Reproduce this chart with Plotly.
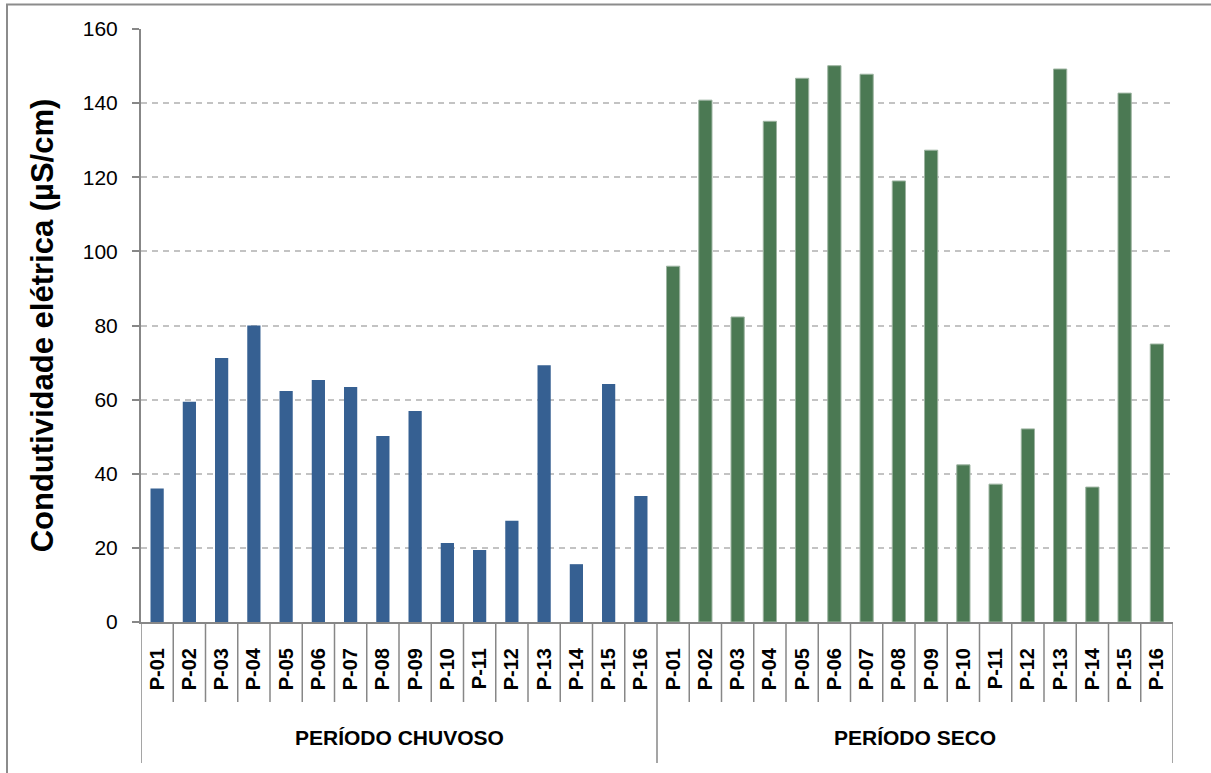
import plotly.graph_objects as go

# Sampling points and seasons
points = ["P-01", "P-02", "P-03", "P-04", "P-05", "P-06", "P-07", "P-08",
          "P-09", "P-10", "P-11", "P-12", "P-13", "P-14", "P-15", "P-16"]
periods = ["PERÍODO CHUVOSO", "PERÍODO SECO"]

# Electrical conductivity (µS/cm)
chuvoso = [36, 59.4, 71.2, 80, 62.3, 65.3, 63.4, 50.2,
           56.9, 21.3, 19.4, 27.3, 69.3, 15.6, 64.2, 34]
seco = [96, 140.8, 82.3, 135.1, 146.7, 150.1, 147.8, 119,
        127.3, 42.4, 37.2, 52.1, 149.2, 36.4, 142.7, 75]

y_ticks = [0, 20, 40, 60, 80, 100, 120, 140, 160]

W, H = 1211, 773
ML, MR, MT, MB = 141, 38, 29, 151
PW, PH = W - ML - MR, H - MT - MB

n = len(points)
x_chuvoso = list(range(n))
x_seco = list(range(n, 2 * n))

font_family = "Liberation Sans, Arial, sans-serif"
axis_grey = "#878787"

fig = go.Figure()
fig.add_trace(go.Bar(
    x=x_chuvoso, y=chuvoso, width=0.41,
    marker=dict(color="#366092", line=dict(width=0)),
    showlegend=False, name=periods[0],
))
fig.add_trace(go.Bar(
    x=x_seco, y=seco, width=0.41,
    marker=dict(color="#4B7953", line=dict(color="#9db4a1", width=1)),
    showlegend=False, name=periods[1],
))


def py(v):
    # pixel row -> paper y
    return (H - MB - v) / PH


def px(v):
    # pixel column -> paper x
    return (v - ML) / PW


shapes = []
# separators between individual points
for i in range(1, 2 * n):
    if i == n:
        continue
    shapes.append(dict(type="line", xref="x", yref="paper",
                       x0=i - 0.5, x1=i - 0.5, y0=0, y1=py(702),
                       line=dict(color=axis_grey, width=1.5)))
# separators around the two periods
for xb in [-0.5, n - 0.5, 2 * n - 0.5]:
    shapes.append(dict(type="line", xref="x", yref="paper",
                       x0=xb, x1=xb, y0=0, y1=py(763),
                       line=dict(color=axis_grey, width=1.5)))
# outer frame
shapes.append(dict(type="rect", xref="paper", yref="paper",
                   x0=px(7), x1=px(1216), y0=py(780), y1=py(4.5),
                   line=dict(color="#8c8c8c", width=2), fillcolor="rgba(0,0,0,0)",
                   layer="below"))

annotations = []
for k, label in enumerate(periods):
    annotations.append(dict(
        x=k * n + (n - 1) / 2, xref="x", y=py(737), yref="paper",
        text=label, showarrow=False, xanchor="center", yanchor="middle",
        font=dict(family=font_family, size=21, color="black", weight="bold"),
    ))

fig.update_layout(
    width=W, height=H,
    margin=dict(l=ML, r=MR, t=MT, b=MB, autoexpand=False),
    paper_bgcolor="white", plot_bgcolor="white",
    bargap=0.59,
    shapes=shapes, annotations=annotations,
    font=dict(family=font_family, color="black"),
)
fig.update_xaxes(
    range=[-0.5, 2 * n - 0.5],
    tickmode="array", tickvals=x_chuvoso + x_seco, ticktext=points + points,
    tickangle=-90, ticks="", ticklabelstandoff=16,
    tickfont=dict(family=font_family, size=20, color="black", weight="bold"),
    showline=True, linecolor=axis_grey, linewidth=2,
    showgrid=False, zeroline=False,
)
fig.update_yaxes(
    range=[0, 160], tickmode="array", tickvals=y_ticks,
    ticks="outside", ticklen=7, tickcolor=axis_grey, tickwidth=1.5,
    ticklabelstandoff=10,
    tickfont=dict(family=font_family, size=21, color="black"),
    showline=True, linecolor=axis_grey, linewidth=2,
    showgrid=True, gridcolor="#c3c3c3", griddash="6px,5px", gridwidth=1.5,
    zeroline=False,
    title=dict(text="Condutividade elétrica (µS/cm)", standoff=20,
               font=dict(family=font_family, size=31, color="black", weight="bold")),
)

fig.write_html("out.html")
